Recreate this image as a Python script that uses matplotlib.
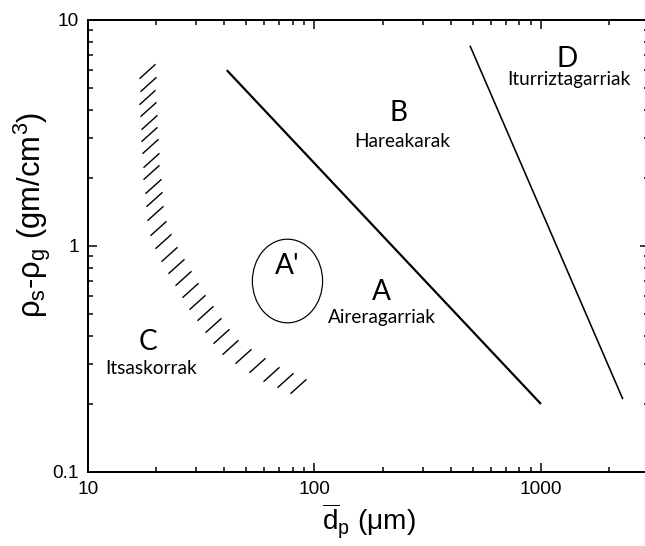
import math

import matplotlib
matplotlib.use("Agg")
import matplotlib.pyplot as plt
from matplotlib.patches import Ellipse
from matplotlib.path import Path
from matplotlib.ticker import NullFormatter

plt.rcParams["font.family"] = "Liberation Sans"
plt.rcParams["mathtext.fontset"] = "custom"
plt.rcParams["mathtext.rm"] = "Liberation Sans"
plt.rcParams["mathtext.it"] = "Liberation Sans:italic"

# group boundaries: particle size (um) vs density difference (g/cm3)
ab_dp = [41, 1000]
ab_rho = [6.0, 0.2]
bd_dp = [486, 2300]
bd_rho = [7.7, 0.21]

# C/A transition, marked by short hatch strokes along the boundary
hatch_dp = [18.2, 18.4, 18.2, 18.4, 18.6, 18.6, 18.8, 19.0, 19.0, 19.4, 19.6, 19.8,
            20.4, 21.4, 22.8, 24.5, 26.3, 28.2, 30.3, 32.9, 35.6, 38.7, 42.4, 48.3,
            55.7, 64.3, 74.1, 84.6]
hatch_rho = [5.95, 5.21, 4.56, 4.04, 3.54, 3.13, 2.77, 2.40, 2.13, 1.84, 1.61, 1.40,
             1.20, 1.05, 0.922, 0.816, 0.722, 0.639, 0.565, 0.505, 0.447, 0.400, 0.357, 0.326,
             0.298, 0.271, 0.255, 0.240]

# A' island: centre and extent in decades
aprime_dp = 76
aprime_rho = 0.70
aprime_w = 0.31
aprime_h = 0.37

# group letters and their Basque names
letters = ["B", "D", "A", "A'", "C"]
letter_pos = [(236, 3.88), (1303, 6.7), (197, 0.626), (75.6, 0.816), (18.4, 0.376)]
names = ["Hareakarak", "Iturriztagarriak", "Aireragarriak", "Itsaskorrak"]
name_pos = [(243, 2.89), (1331, 5.48), (199, 0.485), (19.0, 0.288)]

xticks = [10, 100, 1000]
yticks = [0.1, 1, 10]

fig = plt.figure(figsize=(645 / 72, 546 / 72), dpi=72)
ax = fig.add_axes([88 / 645, 74 / 546, 561 / 645, 452 / 546])
ax.set_xscale("log")
ax.set_yscale("log")
ax.set_xlim(10, 3000)
ax.set_ylim(0.1, 10)

ax.plot(ab_dp, ab_rho, color="black", lw=2.2, solid_capstyle="butt")
ax.plot(bd_dp, bd_rho, color="black", lw=1.6, solid_capstyle="butt")

# a "/" stroke used as marker
ang = math.radians(42)
stroke = Path([(-math.cos(ang), -math.sin(ang)), (math.cos(ang), math.sin(ang))])
ax.plot(hatch_dp, hatch_rho, ls="none", marker=stroke, ms=16, mec="black", mew=1.4)

# ellipse drawn in log space so it keeps its shape on the log-log axes
ax.add_patch(Ellipse((math.log10(aprime_dp), math.log10(aprime_rho)), aprime_w, aprime_h,
                     transform=ax.transLimits + ax.transAxes, fill=False, edgecolor="black", lw=1.2))

for txt, (x, y) in zip(letters, letter_pos):
    ax.text(x, y, txt, family="Lato", fontsize=28, ha="center", va="center")
for txt, (x, y) in zip(names, name_pos):
    ax.text(x, y, txt, family="Lato", fontsize=19, ha="center", va="center")

ax.set_xticks(xticks, labels=[str(t) for t in xticks])
ax.set_yticks(yticks, labels=["0.1", "1", "10"])
ax.xaxis.set_minor_formatter(NullFormatter())
ax.yaxis.set_minor_formatter(NullFormatter())
ax.tick_params(which="both", direction="in", top=True, right=True, width=1.5, labelsize=19)
ax.tick_params(which="major", length=9, pad=9)
ax.tick_params(which="minor", length=5)
for s in ax.spines.values():
    s.set_linewidth(2)

ax.set_xlabel(r"$\overline{\mathrm{d}}_\mathrm{p}$ (μm)", fontsize=28)
ax.set_ylabel(r"ρ$_\mathrm{s}$-ρ$_\mathrm{g}$ (gm/cm$^3$)", fontsize=31)
ax.xaxis.set_label_coords(0.5, -0.066)
ax.yaxis.set_label_coords(-0.062, 0.569)

fig.savefig("out.png", dpi=72)
